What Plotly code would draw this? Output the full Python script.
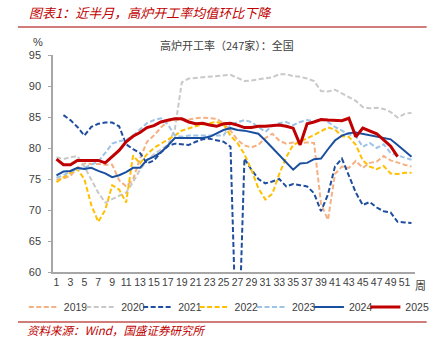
import plotly.graph_objects as go

weeks = list(range(1, 53))
tick_weeks = list(range(1, 52, 2))

y2019 = [74.9, 75.1, 75.5, 76.8, 77.5, 77.5, 77.4, 77.3, 77.3, 74.8,
         73.8, 74.9, 78.3, 81.0, 82.0, 83.3, 84.3, 84.5, 84.5, 84.6,
         84.8, 84.9, 84.8, 84.7, 84.0, 82.8, 81.3, 80.4, 80.1, 80.5,
         81.6, 82.3, 81.2, 80.7, 80.9, 80.8, 80.9, 80.8, 71.0, 68.4,
         75.8, 77.0, 76.8, 77.9, 76.8, 77.6, 77.8, 78.7, 78.0, 77.6,
         77.3, 77.0]
y2020 = [78.5, 78.2, 78.5, 78.7, 77.0, 75.0, 72.8, 71.2, 71.8, 72.3,
         72.8, 74.5, 76.5, 78.0, 79.0, 79.8, 80.5, 83.0, 90.6, 91.2,
         91.3, 91.5, 91.5, 91.6, 91.8, 91.8, 91.3, 90.8, 90.9, 91.1,
         91.3, 91.4, 91.9, 91.9, 91.6, 91.5, 91.2, 90.8, 89.2, 89.1,
         89.4, 88.8, 88.2, 87.6, 86.6, 86.4, 86.5, 86.3, 85.8, 84.9,
         85.5, 85.7]
y2021 = [None, 85.3, 84.5, 83.4, 82.0, 83.4, 83.9, 84.1, 84.1, 83.5,
         80.6, 79.8, 79.2, 77.5, 78.0, 79.3, 80.3, 80.7, 80.6, 80.5,
         81.0, 81.4, 81.5, 81.3, 81.0, 80.2, 42.0, 78.3, 76.5, 75.0,
         74.3, 74.6, 75.0, 73.8, 74.2, 74.0, 73.8, 72.7, 69.8, 72.5,
         77.0, 78.3, 75.5, 72.8, 70.8, 71.3, 70.4, 69.8, 69.6, 68.1,
         68.0, 67.9]
y2022 = [74.5, 75.3, 76.0, 76.6, 75.0, 70.8, 68.1, 70.0, 74.0, 73.3,
         71.2, 78.8, 77.5, 79.0, 80.0, 80.7, 81.3, 82.0, 82.8, 83.2,
         83.5, 83.8, 84.0, 84.2, 83.8, 82.0, 80.8, 79.0, 76.5, 73.5,
         71.7, 72.6, 75.8, 78.5, 80.5, 81.0, 81.6, 82.1, 82.7, 83.3,
         83.0, 81.9, 81.8, 80.5, 78.0, 77.0, 76.6, 77.1, 75.9, 75.8,
         76.0, 76.0]
y2023 = [75.2, 75.6, 76.2, 76.5, 76.8, 77.3, 77.8, 79.2, 80.7, 81.1,
         81.3, 82.0, 83.0, 84.0, 84.5, 84.8, 83.8, 82.0, 81.8, 82.0,
         82.0, 82.0, 82.0, 82.0, 82.0, 83.8, 84.2, 84.5, 84.2, 83.4,
         82.6, 83.6, 84.0, 84.2, 83.7, 84.2, 84.5, 84.3, 84.7, 84.2,
         83.4, 82.8, 82.2, 81.9, 80.2, 80.8, 80.0, 80.6, 79.2, 78.8,
         78.5, 78.1]
y2024 = [75.6, 76.2, 76.3, 76.8, 76.6, 76.8, 76.3, 75.9, 75.3, 75.6,
         76.1, 76.8, 76.8, 78.1, 78.6, 79.3, 80.4, 81.6, 81.6, 81.6,
         81.6, 81.6, 81.8, 82.4, 82.9, 83.2, 82.9, 82.8, 82.6, 82.3,
         81.2, 80.0, 78.8, 77.7, 76.5, 77.5, 77.6, 78.2, 78.3, 79.8,
         81.2, 82.0, 82.4, 82.5, 82.3, 82.1, 81.9, 81.7, 81.4, 80.5,
         79.6, 78.6]
y2025 = [78.2, 77.3, 77.3, 78.0, 78.0, 78.0, 78.0, 77.6, 78.6, 79.6,
         81.0, 81.9, 82.5, 83.3, 83.6, 84.2, 84.5, 84.7, 84.7, 84.2,
         83.9, 84.0, 83.7, 83.5, 83.9, 84.0, 83.7, 83.3, 83.3, 83.5,
         83.5, 83.6, 83.7, 83.5, 83.2, 80.5, 83.9, 84.2, 84.6, 84.5,
         84.4, 84.4, 84.8, 81.8, 83.2, 82.8, 82.3, 81.3, 80.3, 78.6]

DASH = "5px,2.5px"
series = [
    ("2019", y2019, "#F4B183", 2, DASH),
    ("2020", y2020, "#C9C9C9", 2, DASH),
    ("2021", y2021, "#1F4E9E", 2, DASH),
    ("2022", y2022, "#FFC000", 2, DASH),
    ("2023", y2023, "#9DC3E6", 2, DASH),
    ("2024", y2024, "#1A4E9E", 2, "solid"),
    ("2025", y2025, "#C00000", 3, "solid"),
]
# pixel x where each legend label's text starts (layout only)
legend_text_px = [65, 124, 182.5, 240.5, 299.5, 358, 416]

NUM_FONT = "Arial, Liberation Sans, sans-serif"
CJK_FONT = "Noto Sans CJK SC"

def px_x(p):
    return (p - 53) / 372.0

def px_y(p):
    return (272 - p) / 217.0

fig = go.Figure()
legend_layouts = {}
for i, (name, ys, color, w, dash) in enumerate(series):
    key = "legend" if i == 0 else f"legend{i + 1}"
    fig.add_trace(go.Scatter(
        x=weeks[:len(ys)], y=ys, name=name, mode="lines",
        line=dict(color=color, width=w, dash=dash),
        connectgaps=False, legend=key,
    ))
    legend_layouts[key] = dict(
        orientation="h", x=px_x(legend_text_px[i] - 42), xanchor="left",
        y=px_y(307), yanchor="middle", bgcolor="rgba(0,0,0,0)",
        font=dict(family=NUM_FONT, size=10.5, color="#404040"),
    )

fig.update_layout(
    width=446, height=338,
    margin=dict(l=53, r=21, t=55, b=66),
    paper_bgcolor="white", plot_bgcolor="white",
    font=dict(family=NUM_FONT, size=11, color="#404040"),
    showlegend=True,
    xaxis=dict(
        range=[0.5, 52.5], tickvals=tick_weeks, ticktext=[str(t) for t in tick_weeks],
        showgrid=False, zeroline=False, showline=True, linecolor="#A6A6A6", linewidth=1.5,
        ticks="", tickfont=dict(size=10.5, color="#404040"),
    ),
    yaxis=dict(
        range=[60, 95], dtick=5, showgrid=False, zeroline=False, showline=True,
        linecolor="#A6A6A6", linewidth=1.5, ticks="outside", ticklen=3, tickcolor="#A6A6A6",
        tickfont=dict(size=11, color="#404040"), ticklabelstandoff=5,
    ),
    **legend_layouts,
)

RED = "#C00000"
fig.add_shape(type="line", xref="paper", yref="paper", x0=px_x(17), x1=px_x(437),
              y0=px_y(27), y1=px_y(27), line=dict(color="#C0504D", width=1.5))
fig.add_shape(type="line", xref="paper", yref="paper", x0=px_x(17), x1=px_x(437),
              y0=px_y(322), y1=px_y(322), line=dict(color="#C0504D", width=1.5))

fig.add_annotation(text="图表1：近半月，高炉开工率均值环比下降", xref="paper", yref="paper",
                   x=px_x(26), y=px_y(13), xanchor="left", yanchor="middle", showarrow=False,
                   font=dict(family=CJK_FONT, size=13, color=RED, style="italic"))
fig.add_annotation(text="高炉开工率（247家）：全国", xref="paper", yref="paper",
                   x=px_x(232), y=px_y(45), xanchor="center", yanchor="middle", showarrow=False,
                   font=dict(family=CJK_FONT, size=11, color="#404040"))
fig.add_annotation(text="%", xref="paper", yref="paper",
                   x=px_x(38), y=px_y(42), xanchor="center", yanchor="middle", showarrow=False,
                   font=dict(family=NUM_FONT, size=11, color="#404040"))
fig.add_annotation(text="周", xref="paper", yref="paper",
                   x=px_x(431), y=px_y(285), xanchor="center", yanchor="middle", showarrow=False,
                   font=dict(family=CJK_FONT, size=11, color="#404040"))
fig.add_annotation(text="资料来源：Wind，国盛证券研究所", xref="paper", yref="paper",
                   x=px_x(25), y=px_y(330), xanchor="left", yanchor="middle", showarrow=False,
                   borderpad=0,
                   font=dict(family=CJK_FONT, size=11.5, color=RED, style="italic"))

fig.write_html("out.html")
